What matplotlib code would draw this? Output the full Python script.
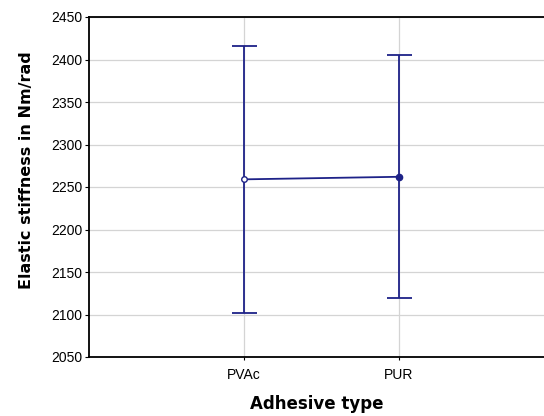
import numpy as np
import matplotlib
matplotlib.use('Agg')
import matplotlib.pyplot as plt

# data
categories = ['PVAc', 'PUR']
means = [2259, 2262]
upper = [2416, 2405]
lower = [2102, 2120]
yticks = [2050, 2100, 2150, 2200, 2250, 2300, 2350, 2400, 2450]

navy = '#1e2288'

fig = plt.figure(figsize=(5.44, 4.16), dpi=100)
ax = fig.add_axes([89 / 544, 1 - 357 / 416, 1 - 89 / 544, 340 / 416])

x = np.arange(1, len(categories) + 1)
err = [np.array(means) - np.array(lower), np.array(upper) - np.array(means)]

ax.errorbar(x, means, yerr=err, color=navy, lw=1.3, capsize=9, capthick=1.3,
            marker=None, zorder=3)
ax.plot(x[0], means[0], 'o', ms=4, mfc='white', mec=navy, mew=1.0, zorder=4)
ax.plot(x[1], means[1], 'o', ms=4.5, mfc=navy, mec=navy, zorder=4)

ax.set_xlim(0, 2.94)
ax.set_ylim(2050, 2450)
ax.set_xticks(x)
ax.set_xticklabels(categories, family='Liberation Sans', fontsize=10)
ax.set_yticks(yticks)
ax.set_yticklabels([str(v) for v in yticks], family='Liberation Sans', fontsize=10)
ax.tick_params(axis='y', length=3, width=0.8, pad=2)
ax.tick_params(axis='x', length=2, width=0.8, pad=6)
ax.grid(True, color='#d4d4d4', lw=0.9)
ax.set_axisbelow(True)

for s in ['left', 'bottom', 'top']:
    ax.spines[s].set_linewidth(1.3)
ax.spines['right'].set_visible(False)

ax.set_ylabel('Elastic stiffness in Nm/rad', family='DejaVu Sans',
              fontweight='bold', fontsize=11.5)
ax.yaxis.set_label_coords(-0.121, 0.55)
ax.set_xlabel('Adhesive type', family='DejaVu Sans', fontweight='bold',
              fontsize=12, labelpad=9)

fig.savefig('out.png', dpi=100)
